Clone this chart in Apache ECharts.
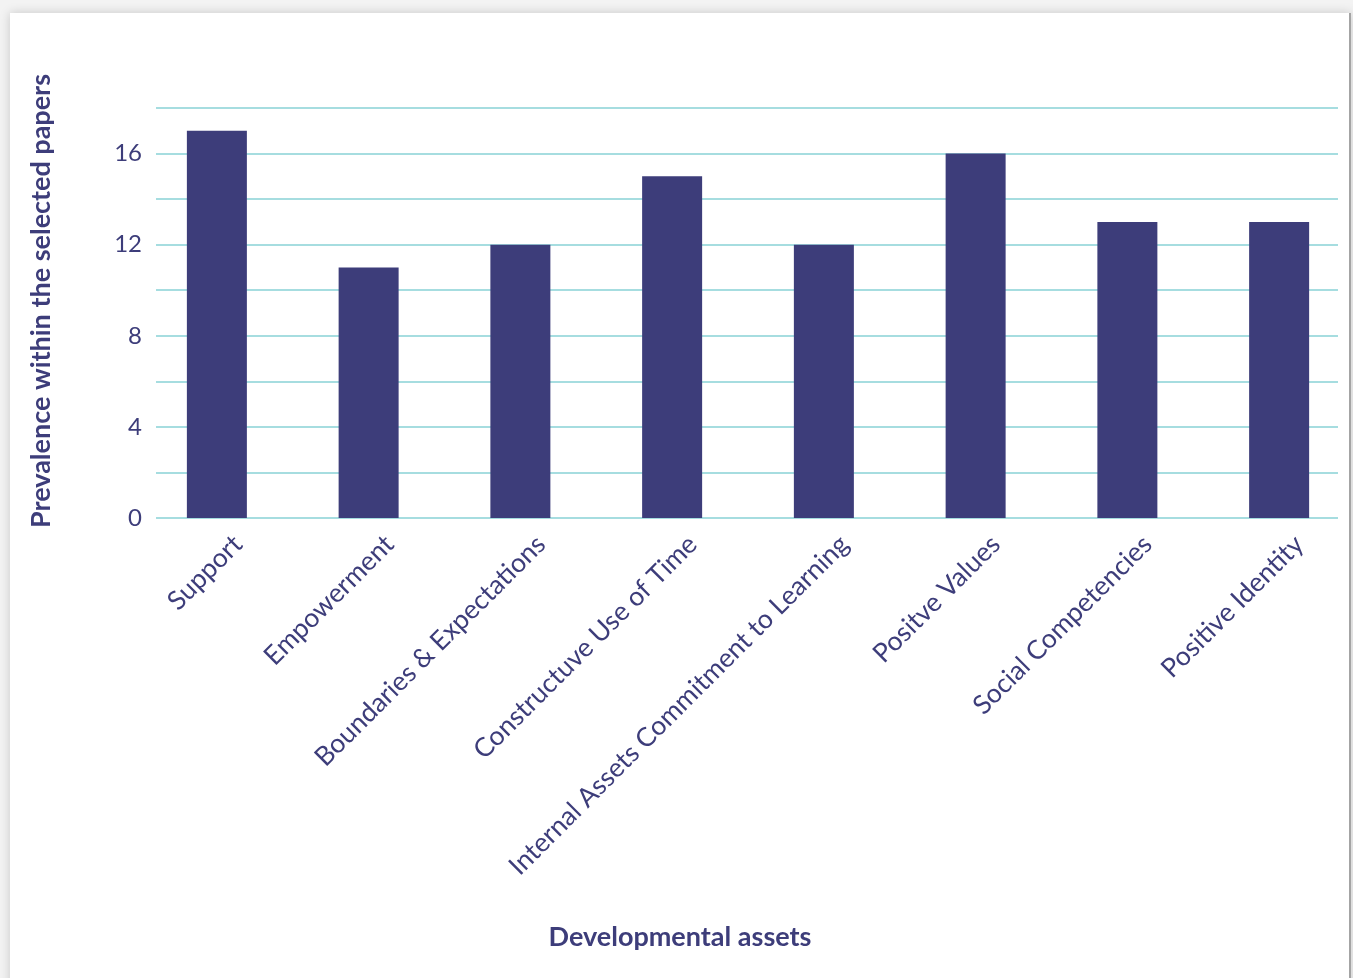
<!DOCTYPE html>
<html>
<head>
<meta charset="utf-8">
<script src="https://cdn.jsdelivr.net/npm/echarts@6/dist/echarts.min.js"></script>
<style>
html,body{margin:0;padding:0;width:1353px;height:978px;overflow:hidden;background:#f3f3f3;}
#card{position:absolute;left:10px;top:13px;width:1339px;height:1000px;background:#fff;box-shadow:0 0 10px rgba(0,0,0,0.18);border-right:2px solid #a4a4a4;}
#chart{position:absolute;left:0;top:0;width:1353px;height:978px;}
</style>
</head>
<body>
<div id="card"></div>
<div id="chart"></div>
<script>
const categories = ["Support","Empowerment","Boundaries & Expectations","Constructuve Use of Time","Internal Assets Commitment to Learning","Positve Values","Social Competencies","Positive Identity"];
const prevalence = [17, 11, 12, 15, 12, 16, 13, 13];
const yTicks = [0, 4, 8, 12, 16];
const yAxisTitle = "Prevalence within the selected papers";
const xAxisTitle = "Developmental assets";

const navy = "#3d3d7a";
const gridColor = "#a6dde0";
const FONT = "Lato";

const chart = echarts.init(document.getElementById('chart'), null, {renderer:'canvas'});
chart.setOption({
  animation:false,
  backgroundColor:'transparent',
  grid:[
    {left:156, top:108, width:1182, height:410, outerBoundsMode:'none', containLabel:false},
    {left:141, top:108, width:1214, height:410, outerBoundsMode:'none', containLabel:false},
    {left:162, top:108, width:1213, height:410, outerBoundsMode:'none', containLabel:false}
  ],
  xAxis:[
    {gridIndex:0, type:'category', data:categories, show:false},
    {gridIndex:1, type:'category', data:categories, show:false},
    {gridIndex:2, type:'category', data:categories,
      axisLine:{show:false}, axisTick:{show:false},
      axisLabel:{rotate:45, interval:0, margin:22, color:navy, fontFamily:FONT, fontSize:26.5}}
  ],
  yAxis:[
    {gridIndex:0, type:'value', min:0, max:18, interval:2,
      axisLine:{show:false}, axisTick:{show:false},
      splitLine:{lineStyle:{color:gridColor, width:2}},
      axisLabel:{margin:14, color:navy, fontFamily:FONT, fontSize:24,
        formatter:v => yTicks.indexOf(v) >= 0 ? String(v) : ''}},
    {gridIndex:1, type:'value', min:0, max:18, show:false},
    {gridIndex:2, type:'value', min:0, max:18, show:false}
  ],
  series:[{
    type:'bar', xAxisIndex:1, yAxisIndex:1, data:prevalence,
    barWidth:60, itemStyle:{color:navy}
  }],
  graphic:[
    {type:'text', x:41, y:301, rotation:Math.PI/2,
      style:{text:yAxisTitle, fill:navy, font:'bold 27px '+FONT, textAlign:'center', textVerticalAlign:'middle'}},
    {type:'text', x:680, y:937,
      style:{text:xAxisTitle, fill:navy, font:'bold 27px '+FONT, textAlign:'center', textVerticalAlign:'middle'}}
  ]
});
</script>
</body>
</html>
